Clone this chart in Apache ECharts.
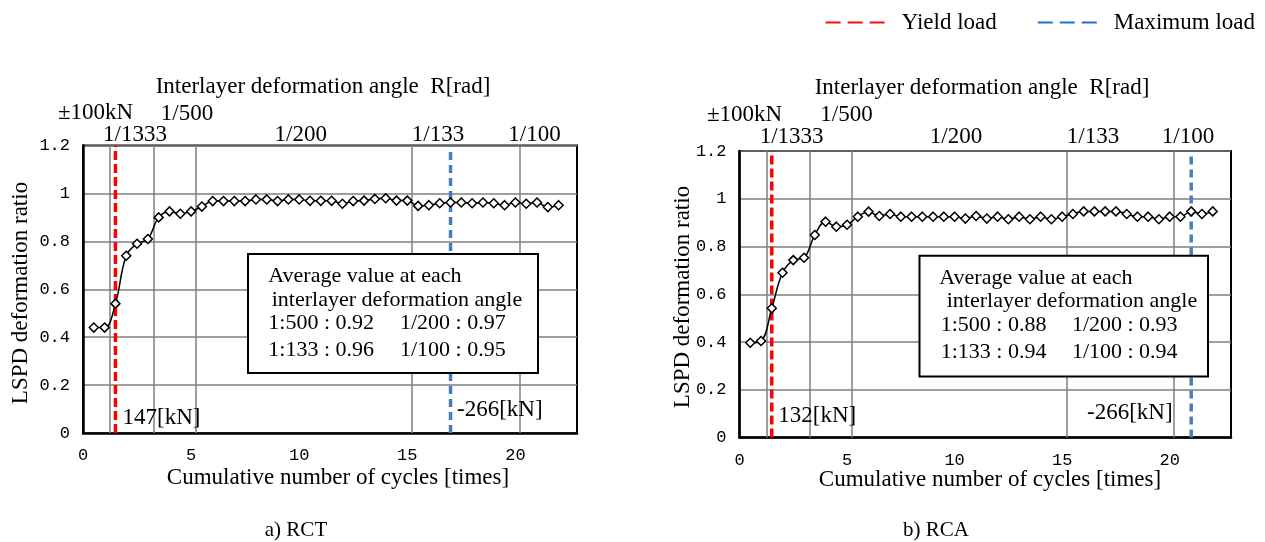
<!DOCTYPE html>
<html>
<head>
<meta charset="utf-8">
<script src="https://cdn.jsdelivr.net/npm/echarts@6/dist/echarts.min.js"></script>
<style>
html,body{margin:0;padding:0;background:#fff;}
#chart{width:1265px;height:542px;}
</style>
</head>
<body>
<div id="chart"></div>
<script>
// ---------- data ----------
const cycles = [0.5,1,1.5,2,2.5,3,3.5,4,4.5,5,5.5,6,6.5,7,7.5,8,8.5,9,9.5,10,10.5,11,11.5,12,12.5,13,13.5,14,14.5,15,15.5,16,16.5,17,17.5,18,18.5,19,19.5,20,20.5,21,21.5,22];
const rctRatio = [0.44,0.44,0.54,0.74,0.79,0.81,0.90,0.925,0.915,0.925,0.945,0.968,0.968,0.968,0.968,0.975,0.975,0.968,0.975,0.975,0.969,0.969,0.969,0.957,0.968,0.970,0.977,0.980,0.970,0.970,0.948,0.951,0.959,0.962,0.962,0.959,0.962,0.959,0.951,0.962,0.957,0.962,0.943,0.951];
const rcaRatio = [0.397,0.404,0.541,0.69,0.743,0.753,0.848,0.904,0.883,0.891,0.925,0.946,0.928,0.936,0.925,0.925,0.925,0.925,0.925,0.925,0.917,0.928,0.917,0.925,0.914,0.925,0.914,0.925,0.914,0.925,0.936,0.947,0.947,0.947,0.947,0.936,0.925,0.925,0.914,0.925,0.925,0.947,0.936,0.947];
const yieldCycle = [1.5, 1.5];          // RCT, RCA
const maxCycle = [17, 21];              // RCT, RCA
const yieldLoadText = ['147[kN]', '132[kN]'];
const maxLoadText = ['-266[kN]', '-266[kN]'];
const angleBoundaries = [1.25, 3.25, 5.2, 15.2, 20.2];
const angleLabels = ['1/1333', '1/500', '1/200', '1/133', '1/100'];
const loadLabel = '\u00b1100kN';
const avgKeys = ['1:500', '1/200', '1:133', '1/100'];
const rctAvg = ['0.92', '0.97', '0.96', '0.95'];
const rcaAvg = ['0.88', '0.93', '0.94', '0.94'];
const captions = ['a) RCT', 'b) RCA'];
const xTicks = [0, 5, 10, 15, 20];

// ---------- layout ----------
const SERIF = '"Liberation Serif", "Times New Roman", serif';
const panels = [
  { left: 83, top: 145.5, width: 494, height: 287.5, xMax: 22.85,
    title: [323, 87], pm: [58, 113], a500: [187, 114], aRow: [135, 300.8, 438, 534.5], aRowY: 135,
    box: [248, 254, 290, 119], boxText: [268.3, 276.7, 271.7, 300, 268.3, 400, 323.3, 350],
    yl: [122.5, 418], ml: [457, 410], xt: [338, 478], yt: [21, 293], cap: [296, 530], avg: rctAvg, ratio: rctRatio },
  { left: 739.5, top: 151, width: 491.5, height: 286.5, xMax: 22.85,
    title: [982, 88], pm: [707, 115], a500: [846.5, 115], aRow: [791.6, 956, 1093, 1188], aRowY: 137,
    box: [919.5, 255.7, 288.5, 120.8], boxText: [939.3, 278, 946.7, 301.7, 940.7, 1071.9, 325.4, 352.4],
    yl: [778.3, 416], ml: [1087, 413], xt: [990, 480], yt: [683, 297], cap: [936, 530], avg: rcaAvg, ratio: rcaRatio }
];

function txt(x, y, text, size, opts) {
  opts = opts || {};
  return {
    type: 'text', x: x, y: y, rotation: opts.rotation || 0, z: 20,
    style: { text: text, font: (size || 23) + 'px ' + SERIF, fill: '#000',
      align: opts.align || 'center', verticalAlign: opts.vAlign || 'middle' }
  };
}

const grid = [], xAxis = [], yAxis = [], series = [], graphic = [];
panels.forEach((p, k) => {
  grid.push({ left: p.left, top: p.top, width: p.width, height: p.height,
    show: true, borderColor: '#000', borderWidth: 2, backgroundColor: 'transparent' });
  xAxis.push({ type: 'value', gridIndex: k, min: 0, max: p.xMax, interval: 5,
    axisLine: { show: true, lineStyle: { color: '#000', width: 2.5 } },
    axisTick: { show: false }, splitLine: { show: false },
    axisLabel: { margin: 14, color: '#000', fontFamily: '"Liberation Mono", monospace', fontSize: 17,
      showMaxLabel: false,
      formatter: v => (xTicks.indexOf(v) >= 0 ? String(v) : '') } });
  yAxis.push({ type: 'value', gridIndex: k, min: 0, max: 1.2, interval: 0.2,
    axisLine: { show: true, lineStyle: { color: '#000', width: 2.5 } },
    axisTick: { show: false },
    splitLine: { show: true, lineStyle: { color: '#7f7f7f', width: 1.5 } },
    axisLabel: { margin: 13, color: '#000', fontFamily: '"Liberation Mono", monospace', fontSize: 17 } });

  // vertical angle-boundary gridlines
  series.push({ type: 'line', xAxisIndex: k, yAxisIndex: k, data: [], z: 1, silent: true,
    markLine: { silent: true, symbol: ['none', 'none'], label: { show: false },
      lineStyle: { color: '#7f7f7f', width: 1.5, type: 'solid' },
      data: angleBoundaries.map(b => ({ xAxis: b })) } });

  series.push({ name: 'Yield load', type: 'line', xAxisIndex: k, yAxisIndex: k, z: 3,
    symbol: 'none', data: [[yieldCycle[k], 0], [yieldCycle[k], 1.2]],
    lineStyle: { color: '#ff0000', width: 3.5, type: [9, 4] }, itemStyle: { color: '#ff0000' } });
  series.push({ name: 'Maximum load', type: 'line', xAxisIndex: k, yAxisIndex: k, z: 3,
    symbol: 'none', data: [[maxCycle[k], 0], [maxCycle[k], 1.2]],
    lineStyle: { color: '#4a7ebb', width: 3.5, type: [8, 5] }, itemStyle: { color: '#1874cd' } });

  series.push({ name: captions[k], type: 'line', xAxisIndex: k, yAxisIndex: k, z: 5,
    smooth: 0.4, symbol: 'diamond', symbolSize: 9,
    data: cycles.map((c, i) => [c, p.ratio[i]]),
    lineStyle: { color: '#000', width: 1.5 },
    itemStyle: { color: '#fff', borderColor: '#000', borderWidth: 1.5 } });

  // texts
  graphic.push(txt(p.title[0], p.title[1], 'Interlayer deformation angle  R[rad]', 23));
  graphic.push(txt(p.pm[0], p.pm[1], loadLabel, 23, { align: 'left' }));
  graphic.push(txt(p.a500[0], p.a500[1], angleLabels[1], 23));
  [0, 2, 3, 4].forEach((li, j) => graphic.push(txt(p.aRow[j], p.aRowY, angleLabels[li], 23)));
  graphic.push({ type: 'rect', z: 15, shape: { x: p.box[0], y: p.box[1], width: p.box[2], height: p.box[3] },
    style: { fill: '#fff', stroke: '#000', lineWidth: 2 } });
  const b = p.boxText;
  graphic.push(txt(b[0], b[1], 'Average value at each', 22, { align: 'left' }));
  graphic.push(txt(b[2], b[3], 'interlayer deformation angle', 22, { align: 'left' }));
  graphic.push(txt(b[4], b[6], avgKeys[0] + ' : ' + p.avg[0], 22, { align: 'left' }));
  graphic.push(txt(b[5], b[6], avgKeys[1] + ' : ' + p.avg[1], 22, { align: 'left' }));
  graphic.push(txt(b[4], b[7], avgKeys[2] + ' : ' + p.avg[2], 22, { align: 'left' }));
  graphic.push(txt(b[5], b[7], avgKeys[3] + ' : ' + p.avg[3], 22, { align: 'left' }));
  graphic.push(txt(p.yl[0], p.yl[1], yieldLoadText[k], 23, { align: 'left' }));
  graphic.push(txt(p.ml[0], p.ml[1], maxLoadText[k], 23, { align: 'left' }));
  graphic.push(txt(p.xt[0], p.xt[1], 'Cumulative number of cycles [times]', 23));
  graphic.push(txt(p.yt[0], p.yt[1], 'LSPD deformation ratio', 23, { rotation: Math.PI / 2 }));
  graphic.push(txt(p.cap[0], p.cap[1], captions[k], 21));
});

const chart = echarts.init(document.getElementById('chart'), null, { renderer: 'canvas' });
chart.setOption({
  animation: false,
  backgroundColor: '#fff',
  legend: {
    data: [
      { name: 'Yield load', lineStyle: { color: '#ee1111' } },
      { name: 'Maximum load', lineStyle: { color: '#1a75c9' } }
    ],
    right: 5, top: 6, itemWidth: 59, itemHeight: 12, itemGap: 40,
    lineStyle: { type: [15, 7] },
    itemStyle: { opacity: 0, borderWidth: 0 },
    textStyle: { fontFamily: SERIF, fontSize: 23, color: '#000', padding: [0, 0, 0, 12] }
  },
  grid: grid, xAxis: xAxis, yAxis: yAxis, series: series, graphic: graphic
});
</script>
</body>
</html>
